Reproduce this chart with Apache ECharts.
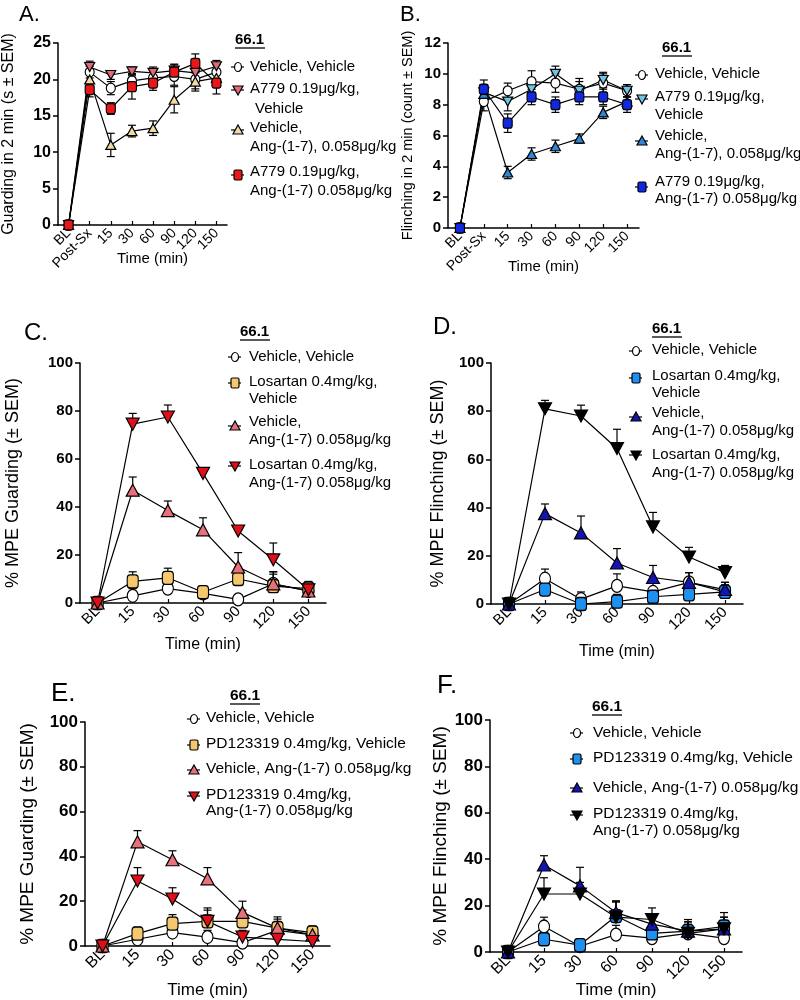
<!DOCTYPE html>
<html>
<head>
<meta charset="utf-8">
<script src="https://cdn.jsdelivr.net/npm/echarts/dist/echarts.min.js"></script>
<style>
html, body { margin: 0; background: #fff; }
#main { width: 800px; height: 1000px; }
</style>
</head>
<body>
<div id="main"></div>
<script>
// categories
const catsAB = ['BL', 'Post-Sx', '15', '30', '60', '90', '120', '150']
const catsCF = ['BL', '15', '30', '60', '90', '120', '150']

// A. guarding (s)
const aVehVeh = [0, 21.0, 18.8, 19.8, 20.2, 20.4, 20.0, 21.0]
const aVehVehErr = [0, 0.8, 0.9, 1.0, 1.0, 1.2, 1.3, 1.0]
const aA779Veh = [0, 21.7, 20.6, 21.1, 20.9, 21.2, 20.9, 21.8]
const aA779VehErr = [0, 0.8, 0.6, 0.6, 0.8, 0.9, 0.8, 0.8]
const aVehAng = [0, 20.0, 11.0, 12.9, 13.3, 17.2, 19.7, 20.2]
const aVehAngErr = [0, 1.0, 1.6, 0.8, 1.0, 1.8, 1.3, 1.2]
const aA779Ang = [0, 18.6, 16.0, 19.0, 19.5, 21.0, 22.2, 19.5]
const aA779AngErr = [0, 1.0, 0.8, 1.7, 1.0, 1.0, 1.3, 1.5]

// B. flinching (count)
const bVehVeh = [0, 8.2, 8.9, 9.5, 9.4, 9.0, 9.4, 8.9]
const bVehVehErr = [0, 0.6, 0.5, 0.7, 0.6, 0.7, 0.6, 0.4]
const bA779Veh = [0, 8.8, 8.2, 9.0, 10.0, 8.9, 9.6, 8.9]
const bA779VehErr = [0, 0.5, 0.6, 0.5, 0.5, 0.6, 0.5, 0.4]
const bVehAng = [0, 8.7, 3.6, 4.8, 5.3, 5.8, 7.5, 8.2]
const bVehAngErr = [0, 0.5, 0.4, 0.4, 0.4, 0.3, 0.4, 0.5]
const bA779Ang = [0, 9.0, 6.8, 8.5, 8.0, 8.5, 8.5, 8.0]
const bA779AngErr = [0, 0.6, 0.6, 0.5, 0.5, 0.5, 0.5, 0.5]

// C. % MPE guarding, losartan
const cVehVeh = [0, 3, 6, 4, 1.5, 8, 5]
const cVehVehErr = [0, 3, 6, 2, 2, 5, 3]
const cLosVeh = [0, 9, 10.5, 4.5, 10, 7, 6]
const cLosVehErr = [0, 4, 4, 2, 5, 5, 3]
const cVehAng = [0, 47, 38.5, 30.5, 15, 8, 5]
const cVehAngErr = [0, 5.5, 4, 5, 6, 5, 3]
const cLosAng = [0, 74.5, 77.5, 54, 30, 18, 5.5]
const cLosAngErr = [0, 4.5, 5, 2, 2, 7, 2]

// D. % MPE flinching, losartan
const dVehVeh = [0, 10.5, 2, 7.5, 5, 9, 5]
const dVehVehErr = [0, 4, 3, 5, 5, 4, 4]
const dLosVeh = [0, 6, 0, 1, 3, 4, 5]
const dLosVehErr = [0, 5, 2, 3, 3, 3, 3]
const dVehAng = [0, 37.5, 29.5, 17, 11, 9, 6]
const dVehAngErr = [0, 4, 7, 6, 5, 4, 3]
const dLosAng = [0, 81, 78, 64.5, 32, 19.5, 13]
const dLosAngErr = [0, 3.5, 4.5, 8, 6, 4, 3]

// E. % MPE guarding, PD123319
const eVehVeh = [0, 3, 6, 4, 1.5, 7, 5]
const eVehVehErr = [0, 3, 6, 3, 2, 4, 3]
const ePDVeh = [0, 5.5, 10, 11, 11, 8, 6]
const ePDVehErr = [0, 3, 4, 5, 5, 4, 3]
const eVehAng = [0, 46.5, 38.5, 30, 15, 8, 5]
const eVehAngErr = [0, 5, 4, 5, 5, 5, 3]
const ePDAng = [0, 29, 21, 11, 4, 3, 2]
const ePDAngErr = [0, 6, 5, 6, 3, 3, 2]

// F. % MPE flinching, PD123319
const fVehVeh = [0, 11, 2.5, 7.5, 6, 8, 6]
const fVehVehErr = [0, 4, 2, 4, 4, 4, 4]
const fPDVeh = [0, 5.5, 3, 15.5, 8, 9, 11]
const fPDVehErr = [0, 5, 2, 6, 4, 4, 6]
const fVehAng = [0, 37.5, 28.5, 17, 12, 9, 10]
const fVehAngErr = [0, 4, 8, 5, 4, 5, 5]
const fPDAng = [0, 25, 25, 15, 14, 8, 10]
const fPDAngErr = [0, 7, 5, 7, 5, 5, 5]

const FONT = '"Liberation Sans", Arial, sans-serif'

// marker styles
const small = {
  circle: { symbol: 'circle', size: [9, 10], shape: 'ellipse' },
  square: { symbol: 'roundRect', size: [9, 10], shape: 'rect' },
  up: { symbol: 'triangle', size: [10, 9], rot: 0, shape: 'up' },
  down: { symbol: 'triangle', size: [10, 9], rot: 180, shape: 'down' }
}
const big = {
  circle: { symbol: 'circle', size: [11, 13], shape: 'ellipse' },
  square: { symbol: 'roundRect', size: [11, 13], shape: 'rect' },
  up: { symbol: 'triangle', size: [13, 12], rot: 0, shape: 'up' },
  down: { symbol: 'triangle', size: [13, 12], rot: 180, shape: 'down' }
}

function errBars (both) {
  return function (params, api) {
    const x = api.value(0)
    const lo = api.coord([x, api.value(1)])
    const hi = api.coord([x, api.value(2)])
    const w = 4
    const st = { stroke: '#000', lineWidth: 1.2 }
    const kids = [
      { type: 'line', shape: { x1: lo[0], y1: lo[1], x2: hi[0], y2: hi[1] }, style: st },
      { type: 'line', shape: { x1: hi[0] - w, y1: hi[1], x2: hi[0] + w, y2: hi[1] }, style: st }
    ]
    if (both) kids.push({ type: 'line', shape: { x1: lo[0] - w, y1: lo[1], x2: lo[0] + w, y2: lo[1] }, style: st })
    return { type: 'group', children: kids }
  }
}

function mk (gi, name, values, errs, mark, fill, both) {
  return [
    {
      type: 'custom',
      name: name + ' SEM',
      xAxisIndex: gi,
      yAxisIndex: gi,
      z: 1,
      silent: true,
      renderItem: errBars(both),
      data: values.map((v, i) => [i, both ? Math.max(0, v - errs[i]) : v, v + errs[i]]),
      encode: { x: 0, y: [1, 2] }
    },
    {
      type: 'line',
      name: name,
      xAxisIndex: gi,
      yAxisIndex: gi,
      z: 2,
      data: values,
      symbol: mark.symbol,
      symbolSize: mark.size,
      symbolRotate: mark.rot || 0,
      lineStyle: { color: '#000', width: 1.2 },
      itemStyle: { color: fill, borderColor: '#000', borderWidth: 1.2 }
    }
  ]
}

const grids = [
  { left: 57, top: 43, width: 170, height: 182 },
  { left: 448, top: 43, width: 191, height: 185 },
  { left: 80, top: 363, width: 246, height: 240 },
  { left: 491, top: 363, width: 252, height: 241 },
  { left: 85, top: 722, width: 245, height: 229 },
  { left: 490, top: 720, width: 252, height: 232 }
]

const yCfg = [
  { max: 25, interval: 5, name: 'Guarding in 2 min (s ± SEM)', gap: 41, nameSize: 16, labSize: 16 },
  { max: 12, interval: 2, name: 'Flinching in 2 min (count ± SEM)', gap: 33, nameSize: 14.5, labSize: 15 },
  { max: 100, interval: 20, name: '% MPE Guarding (± SEM)', gap: 58, nameSize: 18, labSize: 15 },
  { max: 100, interval: 20, name: '% MPE Flinching (± SEM)', gap: 44, nameSize: 18, labSize: 15 },
  { max: 100, interval: 20, name: '% MPE Guarding (± SEM)', gap: 48, nameSize: 19, labSize: 17 },
  { max: 100, interval: 20, name: '% MPE Flinching (± SEM)', gap: 40, nameSize: 19, labSize: 17 }
]
const xCfg = [
  { cats: catsAB, gap: 26, nameSize: 15, labSize: 14, pad: [0, 0, 0, 20] },
  { cats: catsAB, gap: 31, nameSize: 15, labSize: 14, pad: 0 },
  { cats: catsCF, gap: 34, nameSize: 16, labSize: 15, pad: 0 },
  { cats: catsCF, gap: 40, nameSize: 16, labSize: 15, pad: 0 },
  { cats: catsCF, gap: 36, nameSize: 17, labSize: 16, pad: 0 },
  { cats: catsCF, gap: 30, nameSize: 17, labSize: 16, pad: 0 }
]

const axisLine = { show: true, lineStyle: { color: '#000', width: 1.5 } }

const xAxes = xCfg.map((c, i) => ({
  type: 'category',
  gridIndex: i,
  data: c.cats,
  boundaryGap: true,
  axisLine: axisLine,
  axisTick: { show: true, alignWithLabel: true, inside: true, length: 4, lineStyle: { color: '#000', width: 1.2 } },
  axisLabel: { rotate: 45, color: '#000', fontFamily: FONT, fontSize: c.labSize, margin: 6, interval: 0 },
  name: 'Time (min)',
  nameLocation: 'middle',
  nameGap: c.gap,
  nameMoveOverlap: false,
  nameTextStyle: { color: '#000', fontFamily: FONT, fontSize: c.nameSize, padding: c.pad }
}))

const yAxes = yCfg.map((c, i) => ({
  type: 'value',
  gridIndex: i,
  min: 0,
  max: c.max,
  interval: c.interval,
  axisLine: axisLine,
  axisTick: { show: true, length: 5, lineStyle: { color: '#000', width: 1.5 } },
  splitLine: { show: false },
  axisLabel: { color: '#000', fontFamily: FONT, fontWeight: 'bold', fontSize: c.labSize, margin: 7 },
  name: c.name,
  nameLocation: 'middle',
  nameGap: c.gap,
  nameMoveOverlap: false,
  nameTextStyle: { color: '#000', fontFamily: FONT, fontSize: c.nameSize }
}))

const series = [].concat(
  mk(0, 'Vehicle, Vehicle', aVehVeh, aVehVehErr, small.circle, '#fff', true),
  mk(0, 'A779 0.19μg/kg, Vehicle', aA779Veh, aA779VehErr, small.down, '#E06A78', true),
  mk(0, 'Vehicle, Ang-(1-7), 0.058μg/kg', aVehAng, aVehAngErr, small.up, '#F2D9A6', true),
  mk(0, 'A779 0.19μg/kg, Ang-(1-7) 0.058μg/kg', aA779Ang, aA779AngErr, small.square, '#E81818', true),

  mk(1, 'Vehicle, Vehicle', bVehVeh, bVehVehErr, small.circle, '#fff', true),
  mk(1, 'A779 0.19μg/kg, Vehicle', bA779Veh, bA779VehErr, small.down, '#6EC6E6', true),
  mk(1, 'Vehicle, Ang-(1-7), 0.058μg/kg', bVehAng, bVehAngErr, small.up, '#2E86D6', true),
  mk(1, 'A779 0.19μg/kg, Ang-(1-7) 0.058μg/kg', bA779Ang, bA779AngErr, small.square, '#1028E0', true),

  mk(2, 'Vehicle, Vehicle', cVehVeh, cVehVehErr, big.circle, '#fff', false),
  mk(2, 'Losartan 0.4mg/kg, Vehicle', cLosVeh, cLosVehErr, big.square, '#F6C86E', false),
  mk(2, 'Vehicle, Ang-(1-7) 0.058μg/kg', cVehAng, cVehAngErr, big.up, '#E8707A', false),
  mk(2, 'Losartan 0.4mg/kg, Ang-(1-7) 0.058μg/kg', cLosAng, cLosAngErr, big.down, '#E0101A', false),

  mk(3, 'Vehicle, Vehicle', dVehVeh, dVehVehErr, big.circle, '#fff', false),
  mk(3, 'Losartan 0.4mg/kg, Vehicle', dLosVeh, dLosVehErr, big.square, '#1E90F0', false),
  mk(3, 'Vehicle, Ang-(1-7) 0.058μg/kg', dVehAng, dVehAngErr, big.up, '#1414B4', false),
  mk(3, 'Losartan 0.4mg/kg, Ang-(1-7) 0.058μg/kg', dLosAng, dLosAngErr, big.down, '#000', false),

  mk(4, 'Vehicle, Vehicle', eVehVeh, eVehVehErr, big.circle, '#fff', false),
  mk(4, 'PD123319 0.4mg/kg, Vehicle', ePDVeh, ePDVehErr, big.square, '#F6C86E', false),
  mk(4, 'Vehicle, Ang-(1-7) 0.058μg/kg', eVehAng, eVehAngErr, big.up, '#E8707A', false),
  mk(4, 'PD123319 0.4mg/kg, Ang-(1-7) 0.058μg/kg', ePDAng, ePDAngErr, big.down, '#E0101A', false),

  mk(5, 'Vehicle, Vehicle', fVehVeh, fVehVehErr, big.circle, '#fff', false),
  mk(5, 'PD123319 0.4mg/kg, Vehicle', fPDVeh, fPDVehErr, big.square, '#1E90F0', false),
  mk(5, 'Vehicle, Ang-(1-7) 0.058μg/kg', fVehAng, fVehAngErr, big.up, '#1414B4', false),
  mk(5, 'PD123319 0.4mg/kg, Ang-(1-7) 0.058μg/kg', fPDAng, fPDAngErr, big.down, '#000', false)
)

// legend drawing (graphic), layout only
function marker (x, y, shape, fill) {
  const st = { fill: fill, stroke: '#000', lineWidth: 1.2 }
  let s
  if (shape === 'ellipse') s = { type: 'ellipse', shape: { cx: 0, cy: 0, rx: 3.5, ry: 4.5 }, style: st }
  else if (shape === 'rect') s = { type: 'rect', shape: { x: -4, y: -5, width: 8, height: 10, r: 1.5 }, style: st }
  else if (shape === 'up') s = { type: 'polygon', shape: { points: [[0, -5], [5, 4], [-5, 4]] }, style: st }
  else s = { type: 'polygon', shape: { points: [[0, 5], [5, -4], [-5, -4]] }, style: st }
  return {
    type: 'group',
    x: x,
    y: y,
    children: [
      { type: 'line', shape: { x1: -7, y1: 0, x2: 6, y2: 0 }, style: { stroke: '#000', lineWidth: 1.2 } },
      s
    ]
  }
}
function txt (x, y, text, size, weight) {
  return {
    type: 'text',
    x: x,
    y: y,
    style: {
      text: text,
      fill: '#000',
      font: (weight || 'normal') + ' ' + size + 'px ' + FONT,
      textVerticalAlign: 'middle',
      verticalAlign: 'middle'
    }
  }
}
function legendBlock (cfg) {
  const out = []
  out.push(txt(cfg.titleX, cfg.titleY, '66.1', cfg.size, 'bold'))
  out.push({ type: 'line', shape: { x1: cfg.titleX, y1: cfg.titleY + 8, x2: cfg.titleX + 30, y2: cfg.titleY + 8 }, style: { stroke: '#000', lineWidth: 1.3 } })
  cfg.rows.forEach(r => {
    out.push(marker(cfg.markX, r.my, r.shape, r.fill))
    r.lines.forEach(l => out.push(txt(l[2] || cfg.textX, l[1], l[0], cfg.size)))
  })
  return out
}

const graphics = [].concat(
  txt(19, 15, 'A.', 22), txt(400, 15, 'B.', 22),
  txt(24, 333, 'C.', 24), txt(433, 327, 'D.', 24),
  txt(51, 694, 'E.', 26), txt(437, 686, 'F.', 26),
  legendBlock({
    titleX: 235, titleY: 40, markX: 238, textX: 250, size: 15,
    rows: [
      { shape: 'ellipse', fill: '#fff', my: 67, lines: [['Vehicle, Vehicle', 67]] },
      { shape: 'down', fill: '#E06A78', my: 90, lines: [['A779 0.19μg/kg,', 89], ['Vehicle', 109, 255]] },
      { shape: 'up', fill: '#F2D9A6', my: 130, lines: [['Vehicle,', 128], ['Ang-(1-7), 0.058μg/kg', 147]] },
      { shape: 'rect', fill: '#E81818', my: 175, lines: [['A779 0.19μg/kg,', 172], ['Ang-(1-7) 0.058μg/kg', 191]] }
    ]
  }),
  legendBlock({
    titleX: 662, titleY: 48, markX: 642, textX: 655, size: 15,
    rows: [
      { shape: 'ellipse', fill: '#fff', my: 75, lines: [['Vehicle, Vehicle', 74]] },
      { shape: 'down', fill: '#6EC6E6', my: 99, lines: [['A779 0.19μg/kg,', 97], ['Vehicle', 115]] },
      { shape: 'up', fill: '#2E86D6', my: 141, lines: [['Vehicle,', 136], ['Ang-(1-7), 0.058μg/kg', 154]] },
      { shape: 'rect', fill: '#1028E0', my: 187, lines: [['A779 0.19μg/kg,', 182], ['Ang-(1-7) 0.058μg/kg', 199]] }
    ]
  }),
  legendBlock({
    titleX: 240, titleY: 332, markX: 235, textX: 249, size: 15,
    rows: [
      { shape: 'ellipse', fill: '#fff', my: 357, lines: [['Vehicle, Vehicle', 357]] },
      { shape: 'rect', fill: '#F6C86E', my: 383, lines: [['Losartan 0.4mg/kg,', 382], ['Vehicle', 399]] },
      { shape: 'up', fill: '#E8707A', my: 426, lines: [['Vehicle,', 422], ['Ang-(1-7) 0.058μg/kg', 440]] },
      { shape: 'down', fill: '#E0101A', my: 466, lines: [['Losartan 0.4mg/kg,', 465], ['Ang-(1-7) 0.058μg/kg', 483]] }
    ]
  }),
  legendBlock({
    titleX: 652, titleY: 329, markX: 636, textX: 652, size: 15,
    rows: [
      { shape: 'ellipse', fill: '#fff', my: 351, lines: [['Vehicle, Vehicle', 350]] },
      { shape: 'rect', fill: '#1E90F0', my: 378, lines: [['Losartan 0.4mg/kg,', 376], ['Vehicle', 393]] },
      { shape: 'up', fill: '#1414B4', my: 417, lines: [['Vehicle,', 413], ['Ang-(1-7) 0.058μg/kg', 431]] },
      { shape: 'down', fill: '#000', my: 455, lines: [['Losartan 0.4mg/kg,', 455], ['Ang-(1-7) 0.058μg/kg', 473]] }
    ]
  }),
  legendBlock({
    titleX: 230, titleY: 696, markX: 194, textX: 206, size: 15.5,
    rows: [
      { shape: 'ellipse', fill: '#fff', my: 719, lines: [['Vehicle, Vehicle', 718]] },
      { shape: 'rect', fill: '#F6C86E', my: 745, lines: [['PD123319 0.4mg/kg, Vehicle', 744]] },
      { shape: 'up', fill: '#E8707A', my: 770, lines: [['Vehicle, Ang-(1-7) 0.058μg/kg', 769]] },
      { shape: 'down', fill: '#E0101A', my: 796, lines: [['PD123319 0.4mg/kg,', 795], ['Ang-(1-7) 0.058μg/kg', 811]] }
    ]
  }),
  legendBlock({
    titleX: 592, titleY: 707, markX: 577, textX: 593, size: 15.5,
    rows: [
      { shape: 'ellipse', fill: '#fff', my: 733, lines: [['Vehicle, Vehicle', 733]] },
      { shape: 'rect', fill: '#1E90F0', my: 759, lines: [['PD123319 0.4mg/kg, Vehicle', 758]] },
      { shape: 'up', fill: '#1414B4', my: 788, lines: [['Vehicle, Ang-(1-7) 0.058μg/kg', 788]] },
      { shape: 'down', fill: '#000', my: 815, lines: [['PD123319 0.4mg/kg,', 814], ['Ang-(1-7) 0.058μg/kg', 831]] }
    ]
  })
)

const chart = echarts.init(document.getElementById('main'))
chart.setOption({
  backgroundColor: '#fff',
  animation: false,
  grid: grids,
  xAxis: xAxes,
  yAxis: yAxes,
  series: series,
  graphic: { elements: graphics }
})
</script>
</body>
</html>
